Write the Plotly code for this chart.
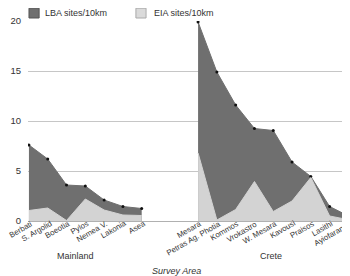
import plotly.graph_objects as go

mainland = ["Berbati", "S. Argolid", "Boeotia", "Pylos", "Nemea V.", "Lakonia", "Asea"]
mainland_lba = [7.6, 6.2, 3.6, 3.5, 2.1, 1.45, 1.25]
mainland_eia = [1.05, 1.3, 0.05, 2.2, 1.1, 0.6, 0.55]

crete = ["Mesara", "Petras Ag. Photia", "Kommos", "Vrokastro", "W. Mesara",
         "Kavousi", "Praisos", "Lasithi", "Ayiofarango"]
crete_lba = [19.9, 14.9, 11.6, 9.25, 9.05, 5.9, 4.45, 1.45, 0.5]
crete_eia = [6.8, 0.1, 1.15, 3.95, 0.95, 2.0, 4.35, 0.5, 0.13]

series_names = ["LBA sites/10km", "EIA sites/10km"]

gap = 2
x_main = list(range(len(mainland)))
x_crete = [len(mainland) + gap + i for i in range(len(crete))]

DARK = "#6f6f6f"
LIGHT = "#d3d3d3"
TXT = "#333333"
FONT = "Liberation Sans, Arial, sans-serif"

fig = go.Figure()
for xs, lba in [(x_main, mainland_lba), (x_crete, crete_lba)]:
    fig.add_trace(go.Scatter(
        x=xs, y=lba, mode="lines+markers", fill="tozeroy",
        fillcolor=DARK, line=dict(color=DARK, width=1),
        marker=dict(color="#111111", size=3),
        name=series_names[0], showlegend=False,
    ))
for xs, eia in [(x_main, mainland_eia), (x_crete, crete_eia)]:
    fig.add_trace(go.Scatter(
        x=xs, y=eia, mode="lines", fill="tozeroy",
        fillcolor=LIGHT, line=dict(color=LIGHT, width=1),
        name=series_names[1], showlegend=False,
    ))

annotations = []
# category labels (rotated)
for xv, lab in zip(x_main + x_crete, mainland + crete):
    annotations.append(dict(
        text=lab, x=xv, y=0, xref="x", yref="paper", showarrow=False,
        textangle=-30, xanchor="right", yanchor="top", xshift=5, yshift=2,
        borderpad=0, borderwidth=0,
        font=dict(size=7.8, color=TXT, family=FONT),
    ))
# group labels
annotations += [
    dict(text="Mainland", x=2.5, y=-0.21, xref="x", yref="paper",
         showarrow=False, font=dict(size=9, color=TXT)),
    dict(text="Crete", x=12.9, y=-0.21, xref="x", yref="paper",
         showarrow=False, font=dict(size=9, color=TXT)),
    dict(text="<i>Survey Area</i>", x=0.453, y=-0.285, xref="paper", yref="paper",
         showarrow=False, font=dict(size=9, color=TXT)),
]
# legend texts
annotations += [
    dict(text=series_names[0], x=0.046, y=1.04, xref="paper", yref="paper",
         xanchor="left", yanchor="middle", showarrow=False, font=dict(size=9, color=TXT)),
    dict(text=series_names[1], x=0.379, y=1.04, xref="paper", yref="paper",
         xanchor="left", yanchor="middle", showarrow=False, font=dict(size=9, color=TXT)),
]
shapes = [
    dict(type="rect", xref="paper", yref="paper", x0=0.003, x1=0.034, y0=1.015, y1=1.064,
         fillcolor=DARK, line=dict(color="#555555", width=1)),
    dict(type="rect", xref="paper", yref="paper", x0=0.330, x1=0.361, y0=1.015, y1=1.064,
         fillcolor="#dadada", line=dict(color="#aaaaaa", width=1)),
]

fig.update_layout(
    width=350, height=276,
    margin=dict(l=20, r=3, t=13, b=63, autoexpand=False),
    paper_bgcolor="white", plot_bgcolor="white",
    font=dict(family=FONT, size=9, color=TXT),
    showlegend=False,
    xaxis=dict(
        range=[-0.05, 17.35], showgrid=False, zeroline=False, showline=False,
        showticklabels=False, ticks="",
    ),
    yaxis=dict(
        range=[0, 20], tickvals=[0, 5, 10, 15, 20], showgrid=True,
        gridcolor="#c6c6c6", gridwidth=1, zeroline=True, zerolinecolor="#b0b0b0",
        zerolinewidth=1, showline=False, ticks="", ticklabelstandoff=6,
        tickfont=dict(size=9.5, color=TXT),
    ),
    annotations=annotations,
    shapes=shapes,
)

fig.write_html("out.html")
